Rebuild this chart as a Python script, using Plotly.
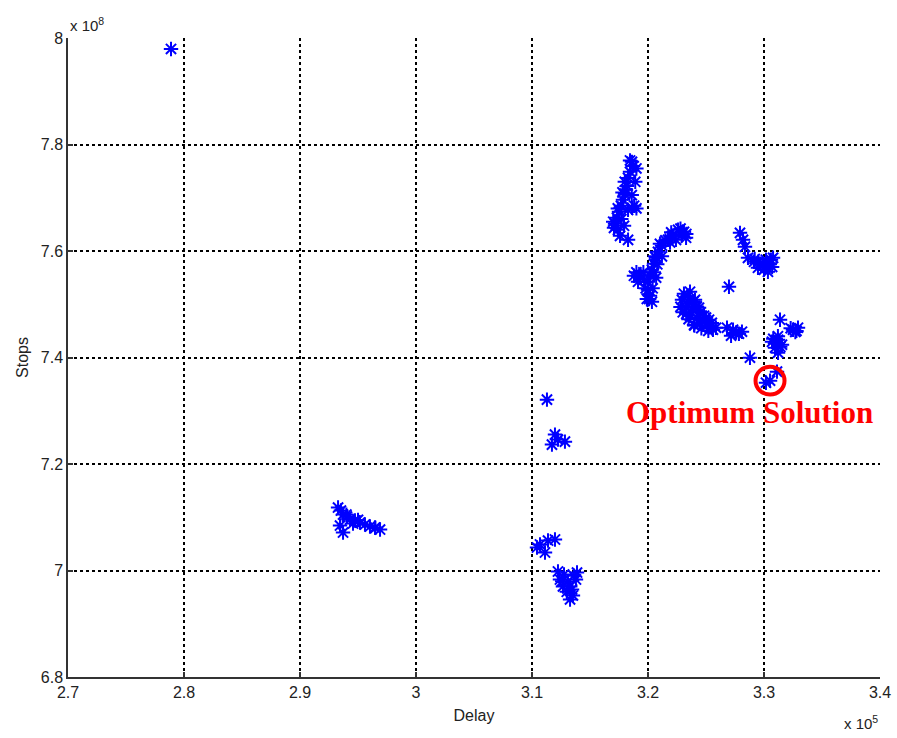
import plotly.graph_objects as go

# Delay values in units of 1e5, Stops values in units of 1e8
delay_e5 = [
    2.7888,
    # cluster near 2.95
    2.9328, 2.9353, 2.9371, 2.9405, 2.9431, 2.9474, 2.9517, 2.9560, 2.9603, 2.9647, 2.9690, 2.9371, 2.9345, 2.9457,
    2.9400, 2.9500, 2.9650,
    # cluster near 3.12 / 7.25
    3.1129, 3.1198, 3.1172, 3.1284, 3.1224,
    # cluster near 3.11 / 7.05
    3.1069, 3.1138, 3.1198, 3.1112, 3.1043,
    # cluster near 3.13 / 6.97
    3.1224, 3.1276, 3.1388, 3.1267, 3.1345, 3.1328, 3.1310, 3.1379, 3.1241, 3.1353,
    3.1300, 3.1330, 3.1260, 3.1360,
    # upper cluster near 3.18 / 7.7
    3.1862, 3.1871, 3.1845, 3.1828, 3.1819, 3.1802, 3.1784, 3.1767, 3.1750, 3.1733, 3.1716, 3.1707, 3.1741,
    3.1862, 3.1828, 3.1793, 3.1828, 3.1759, 3.1845, 3.1810,
    3.1900, 3.1890, 3.1860, 3.1800, 3.1780, 3.1740, 3.1700, 3.1770, 3.1900, 3.1880,
    # S cluster near 3.21 / 7.57
    3.2259, 3.2310, 3.2207, 3.2328, 3.2172, 3.2121, 3.2086, 3.2069, 3.2052, 3.2034, 3.2017, 3.2000, 3.2000,
    3.2017, 3.2034, 3.1931, 3.1879, 3.1914, 3.1966, 3.2103, 3.2241, 3.2290, 3.2190, 3.1990, 3.2060,
    3.2150, 3.2200, 3.2280, 3.2330, 3.2120, 3.2080, 3.2050, 3.1980, 3.2040, 3.1960, 3.1900, 3.2010, 3.2070,
    # big cluster near 3.24 / 7.48
    3.2310, 3.2362, 3.2293, 3.2345, 3.2405, 3.2328, 3.2379, 3.2440, 3.2362, 3.2422, 3.2483, 3.2448, 3.2509,
    3.2560, 3.2526, 3.2397, 3.2586, 3.2330, 3.2470, 3.2420,
    3.2280, 3.2300, 3.2350, 3.2400, 3.2460, 3.2520, 3.2390, 3.2450, 3.2500, 3.2550, 3.2340, 3.2420,
    # cluster near 3.27 / 7.45
    3.2681, 3.2733, 3.2784, 3.2716, 3.2810, 3.2760,
    # isolated
    3.2698,
    # cluster near 3.29 / 7.59
    3.2793, 3.2819, 3.2836, 3.2862, 3.2914, 3.2966, 3.3017, 3.3060, 3.3009, 3.3034, 3.2948, 3.3078, 3.2990,
    3.2950, 3.3050, 3.3000, 3.3070, 3.2920,
    # cluster near 3.32 / 7.44
    3.3138, 3.3250, 3.3293, 3.3121, 3.3095, 3.3155, 3.3121, 3.3069, 3.3270,
    3.3120, 3.3140, 3.3080, 3.3230, 3.3280,
    # near optimum
    3.2879, 3.3112, 3.3017,
]
stops_e8 = [
    7.9794,
    7.1182, 7.1126, 7.1051, 7.1013, 7.0957, 7.0938, 7.0901, 7.0863, 7.0826, 7.0807, 7.0769, 7.0713, 7.0844, 7.0882,
    7.1050, 7.0950, 7.0800,
    7.3208, 7.2552, 7.2364, 7.2420, 7.2458,
    7.0488, 7.0563, 7.0582, 7.0338, 7.0432,
    6.9981, 6.9925, 6.9962, 6.9700, 6.9644, 6.9456, 6.9794, 6.9831, 6.9831, 6.9531,
    6.9600, 6.9700, 6.9800, 6.9900,
    7.7674, 7.7598, 7.7486, 7.7373, 7.7223, 7.7073, 7.6961, 7.6848, 7.6735, 7.6623, 7.6510, 7.6435, 7.6398,
    7.6811, 7.6773, 7.6473, 7.6210, 7.6285, 7.7700, 7.7150,
    7.7550, 7.7300, 7.7050, 7.7300, 7.7100, 7.6800, 7.6550, 7.6600, 7.6800, 7.6850,
    7.6398, 7.6360, 7.6285, 7.6248, 7.6210, 7.6098, 7.5985, 7.5872, 7.5760, 7.5647, 7.5535, 7.5422, 7.5272,
    7.5159, 7.5047, 7.5535, 7.5535, 7.5422, 7.5460, 7.6135, 7.6210, 7.6300, 7.6160, 7.5100, 7.5900,
    7.6200, 7.6350, 7.6420, 7.6320, 7.5900, 7.5750, 7.5600, 7.5300, 7.5300, 7.5600, 7.5600, 7.5100, 7.5500,
    7.5197, 7.5235, 7.5084, 7.5047, 7.5084, 7.4934, 7.4897, 7.4934, 7.4784, 7.4747, 7.4784, 7.4634, 7.4597,
    7.4522, 7.4709, 7.4615, 7.4559, 7.4820, 7.4680, 7.4960,
    7.4950, 7.4850, 7.4720, 7.4600, 7.4550, 7.4500, 7.5050, 7.4850, 7.4750, 7.4650, 7.5150, 7.4950,
    7.4559, 7.4522, 7.4447, 7.4409, 7.4484, 7.4470,
    7.5328,
    7.6341, 7.6210, 7.6079, 7.5872, 7.5797, 7.5760, 7.5835, 7.5835, 7.5685, 7.5610, 7.5685, 7.5872, 7.5760,
    7.5800, 7.5750, 7.5650, 7.5700, 7.5850,
    7.4709, 7.4522, 7.4559, 7.4334, 7.4184, 7.4240, 7.4090, 7.4296, 7.4480,
    7.4400, 7.4200, 7.4350, 7.4550, 7.4500,
    7.3996, 7.3734, 7.3527,
]

optimum_delay_e5 = 3.3052
optimum_stops_e8 = 7.3565

x_ticks = [2.7, 2.8, 2.9, 3.0, 3.1, 3.2, 3.3, 3.4]
x_tick_labels = ["2.7", "2.8", "2.9", "3", "3.1", "3.2", "3.3", "3.4"]
y_ticks = [6.8, 7.0, 7.2, 7.4, 7.6, 7.8, 8.0]
y_tick_labels = ["6.8", "7", "7.2", "7.4", "7.6", "7.8", "8"]

label_font = dict(family="Liberation Sans, Arial, sans-serif", size=16, color="#222222")
small_font = dict(family="Liberation Sans, Arial, sans-serif", size=15, color="#222222")

fig = go.Figure()
fig.add_trace(go.Scatter(
    x=delay_e5 + [optimum_delay_e5], y=stops_e8 + [optimum_stops_e8],
    mode="markers",
    marker=dict(symbol="asterisk-open", size=12, color="#0000ff",
                line=dict(color="#0000ff", width=2)),
    showlegend=False,
    hoverinfo="x+y",
))

# circle around optimum
fig.add_shape(type="circle", xref="x", yref="y",
              x0=optimum_delay_e5 - 0.0125, x1=optimum_delay_e5 + 0.0125,
              y0=optimum_stops_e8 - 0.026, y1=optimum_stops_e8 + 0.026,
              line=dict(color="#ff0000", width=4))

fig.add_annotation(x=3.1795, y=7.296, xref="x", yref="y", text="<b>Optimum Solution</b>",
                   showarrow=False, xanchor="left", yanchor="middle",
                   font=dict(family="Liberation Serif, Times New Roman, serif", size=31, color="#ff0000"))

fig.add_annotation(x=0, y=1, xref="paper", yref="paper", text="x 10<sup>8</sup>",
                   showarrow=False, xanchor="left", yanchor="bottom", yshift=2,
                   font=small_font)
fig.add_annotation(x=1, y=0, xref="paper", yref="paper", text="x 10<sup>5</sup>",
                   showarrow=False, xanchor="right", yanchor="top", yshift=-34,
                   font=small_font)

axis_common = dict(
    showgrid=True, gridcolor="#000000", gridwidth=1.5, griddash="dot",
    showline=True, linecolor="#333333", linewidth=1.5,
    ticks="inside", ticklen=5, tickcolor="#333333", tickwidth=1.5,
    zeroline=False, tickfont=label_font, mirror=False, automargin=False,
)

fig.update_xaxes(range=[2.7, 3.4], tickvals=x_ticks, ticktext=x_tick_labels,
                 title=dict(text="Delay", font=label_font, standoff=10), **axis_common)
fig.update_yaxes(range=[6.8, 8.0], tickvals=y_ticks, ticktext=y_tick_labels,
                 title=dict(text="Stops", font=label_font, standoff=8), **axis_common)

fig.update_layout(
    width=897, height=738,
    margin=dict(l=68, r=17, t=38, b=61),
    paper_bgcolor="#ffffff", plot_bgcolor="#ffffff",
)

fig.write_html("out.html")
